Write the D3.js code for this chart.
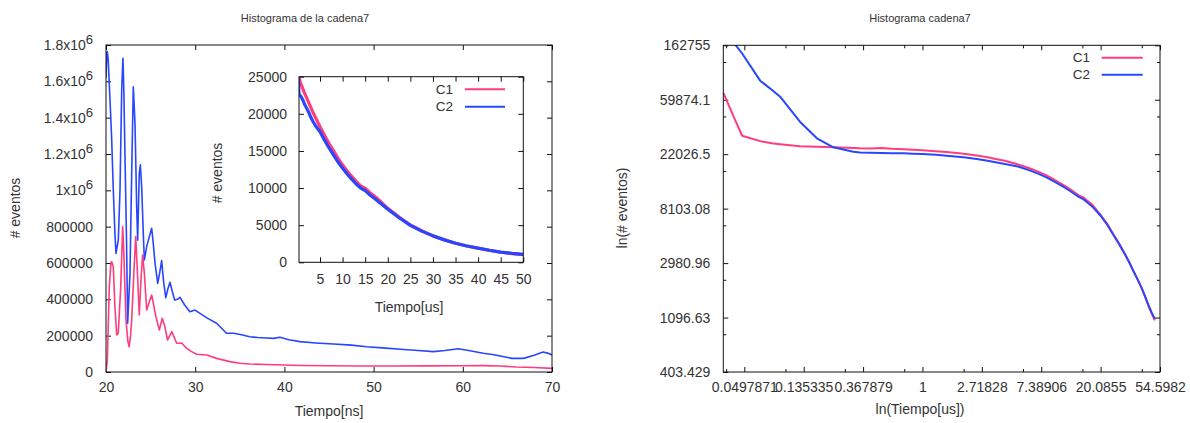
<!DOCTYPE html>
<html><head><meta charset="utf-8">
<script src="https://cdn.jsdelivr.net/npm/d3@7"></script>
<style>
body{margin:0;background:#fff}
svg text{font-family:"Liberation Sans",Arial,sans-serif;fill:#333}
</style>
</head><body><svg id="c" width="1190" height="423"></svg>
<script>
// ---------- data: left main plot (Tiempo[ns]) ----------
const nsTimeC1 = [20.0,20.15,20.37,20.55,20.64,20.82,21.0,21.2,21.38,21.65,21.87,22.0,22.24,22.45,22.6,22.75,22.88,23.14,23.33,23.51,23.73,23.92,24.1,24.3,24.56,24.86,25.12,25.38,25.6,25.98,26.31,26.6,26.9,27.37,27.93,28.5,29.05,29.6,30.17,31.3,32.4,33.9,35,36.1,38,39.9,42,45,48.1,52,56,60,62.3,64.2,66.0,68,70];
const nsC1 = [0,66000,470000,600000,607000,580000,360000,204000,213000,470000,800000,653000,286000,170000,139000,200000,286000,561000,745000,561000,314000,506000,644000,543000,341000,387000,424000,360000,304000,231000,296000,249000,176000,222000,158000,158000,130000,112000,98000,94000,75000,57000,48000,44000,41000,38500,36000,34500,33000,33000,33500,34000,35000,33000,27500,25000,20000];
const nsTimeC2 = [20.0,20.1,20.15,20.25,20.45,20.64,20.82,21.0,21.12,21.38,21.57,21.76,21.9,22.0,22.13,22.3,22.43,22.69,22.88,23.06,23.25,23.44,23.55,23.73,23.85,24.0,24.18,24.3,24.56,24.86,25.12,25.3,25.5,25.8,26.0,26.24,26.45,26.7,26.95,27.17,27.45,27.7,28.0,28.3,28.8,29.4,29.98,30.54,31.4,32.4,33.5,34.3,35.2,36.1,37.0,38.0,38.8,39.5,40.5,41.75,43.5,45.5,47.5,49.2,51,53.0,55,56.7,58,59.5,60.5,62.3,63.5,64.9,65.5,66.8,68,69.0,69.5,70];
const nsC2 = [1620000,1760000,1763000,1717000,1497000,1277000,1000000,763000,653000,726000,1000000,1552000,1727000,1550000,1185000,726000,268000,543000,1094000,1570000,1370000,910000,726000,1094000,1140000,1020000,763000,617000,690000,745000,791000,708000,598000,488000,540000,613000,500000,409000,460000,494000,440000,396000,400000,411000,370000,332000,341000,323000,295000,268000,213000,213000,205000,194000,190000,187000,185000,191000,178000,167000,160000,154000,148000,139000,133000,125000,118000,112000,118000,128000,120000,103000,95000,81000,75000,75000,92000,110000,104000,94000];
const mainXTicks = [20,30,40,50,60,70];
const mainYTicks = [0,200000,400000,600000,800000,1000000,1200000,1400000,1600000,1800000];

// ---------- data: decay (Tiempo[us]) used by inset and log plot ----------
const usTime = [0.035,0.043,0.048,0.065,0.079,0.091,0.127,0.169,0.223,0.313,0.35,0.42,0.5,0.6,0.73,0.85,1,1.25,1.5,2,2.5,3,3.5,4,5,6,7,8,9,10,11,12,13,14,15,16,17.5,20,22.5,25,27.5,30,32.5,35,37.5,40,42.5,45,47.5,50];
const usC1 = [68000,40500,30900,28000,26900,26500,25500,25200,25000,24700,24560,24500,24650,24300,24100,23900,23700,23300,22900,22200,21500,20800,20100,19500,18260,17100,16000,15000,14000,13100,12300,11600,10900,10300,9970,9400,8700,7270,6100,5020,4250,3590,3040,2560,2200,1890,1600,1350,1180,1040];
const usC2 = [225000,163000,140000,85000,72000,63300,40000,29500,25000,23000,22760,22600,22500,22450,22400,22250,22100,21800,21400,20800,20200,19500,18900,18400,17590,16450,15400,14450,13500,12660,11900,11200,10550,10000,9650,9100,8400,7150,6000,4980,4200,3560,3020,2560,2200,1900,1620,1380,1200,1070];
const insetXTicks = [5,10,15,20,25,30,35,40,45,50];
const insetYTicks = [0,5000,10000,15000,20000,25000];
const logXTickLabels = ["0.0497871","0.135335","0.367879","1","2.71828","7.38906","20.0855","54.5982"];
const logYTickLabels = ["403.429","1096.63","2980.96","8103.08","22026.5","59874.1","162755"];

const seriesNames = ["C1","C2"];
const colors = {C1:"#ff3d7c", C2:"#2846ff"};

const svg = d3.select("#c");
const FS = 14;

function box(g, x, y){
  const [x0,x1] = x.range(), [y0,y1] = y.range();
  g.append("rect").attr("x",Math.min(x0,x1)).attr("y",Math.min(y0,y1))
   .attr("width",Math.abs(x1-x0)).attr("height",Math.abs(y1-y0))
   .attr("fill","none").attr("stroke","#111").attr("stroke-width",1);
}
function styleAxis(sel){
  sel.select(".domain").remove();
  sel.selectAll(".tick line").attr("stroke","#111");
  sel.selectAll("text").attr("font-size",FS).attr("fill","#333").attr("font-family","Liberation Sans, Arial, sans-serif");
}
function clip(id, x, y){
  const [x0,x1] = x.range(), [y0,y1] = y.range();
  svg.append("clipPath").attr("id",id).append("rect")
    .attr("x",Math.min(x0,x1)).attr("y",Math.min(y0,y1))
    .attr("width",Math.abs(x1-x0)).attr("height",Math.abs(y1-y0));
}
function drawLine(g, xs, ys, x, y, color, w, clipId){
  const pts = xs.map((t,i)=>[t,ys[i]]);
  g.append("path").datum(pts)
   .attr("clip-path",`url(#${clipId})`)
   .attr("fill","none").attr("stroke",color).attr("stroke-width",w)
   .attr("stroke-linejoin","round")
   .attr("d", d3.line().x(d=>x(d[0])).y(d=>y(d[1])));
}
function legend(g, xTextEnd, yStart, dy, lineX0, lineX1){
  seriesNames.forEach((n,i)=>{
    const yy = yStart + i*dy;
    g.append("text").attr("x",xTextEnd).attr("y",yy).attr("dy","0.35em")
     .attr("text-anchor","end").attr("font-size",13.5).text(n);
    g.append("line").attr("x1",lineX0).attr("x2",lineX1).attr("y1",yy).attr("y2",yy)
     .attr("stroke",colors[n]).attr("stroke-width",2);
  });
}

// ================= LEFT MAIN PLOT =================
const xM = d3.scaleLinear().domain([20,70]).range([106,552]);
const yM = d3.scaleLinear().domain([0,1800000]).range([372,45]);
const gM = svg.append("g");
clip("clipM", xM, yM);

gM.append("g").attr("transform","translate(0,372)")
  .call(d3.axisBottom(xM).tickValues(mainXTicks).tickSizeInner(-5).tickSizeOuter(0).tickPadding(10))
  .call(styleAxis);
gM.append("g").attr("transform","translate(0,45)")
  .call(d3.axisTop(xM).tickValues(mainXTicks).tickSizeInner(-5).tickSizeOuter(0).tickFormat(""))
  .call(styleAxis);
const yAxM = gM.append("g").attr("transform","translate(106,0)")
  .call(d3.axisLeft(yM).tickValues(mainYTicks).tickSizeInner(-5).tickSizeOuter(0).tickPadding(13).tickFormat(d=>String(d)))
  .call(styleAxis);
yAxM.selectAll(".tick text").each(function(d){
  if (d >= 1000000){
    const t = d3.select(this); t.text("");
    const m = d/1000000;
    t.append("tspan").text((Number.isInteger(m)? m : m.toFixed(1)) + "x10");
    t.append("tspan").attr("dy","-0.45em").attr("font-size",13).text("6");
  }
});
gM.append("g").attr("transform","translate(552,0)")
  .call(d3.axisRight(yM).tickValues(mainYTicks).tickSizeInner(-5).tickSizeOuter(0).tickFormat(""))
  .call(styleAxis);

drawLine(gM, nsTimeC1, nsC1, xM, yM, colors.C1, 1.6, "clipM");
drawLine(gM, nsTimeC2, nsC2, xM, yM, colors.C2, 1.6, "clipM");
box(gM, xM, yM);

gM.append("text").attr("x",305).attr("y",18).attr("dy","0.35em").attr("text-anchor","middle").attr("font-size",11).text("Histograma de la cadena7");
gM.append("text").attr("x",329).attr("y",411).attr("dy","0.35em").attr("text-anchor","middle").attr("font-size",FS).text("Tiempo[ns]");
gM.append("text").attr("transform","translate(15,208) rotate(-90)").attr("dy","0.35em").attr("text-anchor","middle").attr("font-size",FS).text("# eventos");

// ================= INSET =================
const xI = d3.scaleLinear().domain([0.35,50]).range([299,523.3]);
const yI = d3.scaleLinear().domain([0,25000]).range([262.3,76.7]);
const gI = svg.append("g");
clip("clipI", xI, yI);
gI.append("rect").attr("x",299).attr("y",76.7).attr("width",224.3).attr("height",185.6).attr("fill","#fff");
gI.append("g").attr("transform","translate(0,262.3)")
  .call(d3.axisBottom(xI).tickValues(insetXTicks).tickSizeInner(-5).tickSizeOuter(0).tickPadding(12))
  .call(styleAxis);
gI.append("g").attr("transform","translate(0,76.7)")
  .call(d3.axisTop(xI).tickValues(insetXTicks).tickSizeInner(-5).tickSizeOuter(0).tickFormat(""))
  .call(styleAxis);
gI.append("g").attr("transform","translate(299,0)")
  .call(d3.axisLeft(yI).tickValues(insetYTicks).tickSizeInner(-5).tickSizeOuter(0).tickPadding(12).tickFormat(d=>String(d)))
  .call(styleAxis);
gI.append("g").attr("transform","translate(523.3,0)")
  .call(d3.axisRight(yI).tickValues(insetYTicks).tickSizeInner(-5).tickSizeOuter(0).tickFormat(""))
  .call(styleAxis);
drawLine(gI, usTime, usC1, xI, yI, colors.C1, 3.2, "clipI");
drawLine(gI, usTime, usC2, xI, yI, colors.C2, 3.2, "clipI");
box(gI, xI, yI);
legend(gI, 453, 89.3, 17.4, 465, 505);
gI.append("text").attr("x",409).attr("y",306.7).attr("dy","0.35em").attr("text-anchor","middle").attr("font-size",FS).text("Tiempo[us]");
gI.append("text").attr("transform","translate(217,173) rotate(-90)").attr("dy","0.35em").attr("text-anchor","middle").attr("font-size",FS).text("# eventos");

// ================= RIGHT LOG PLOT =================
const logXTicks = logXTickLabels.map(Number);
const logYTicks = logYTickLabels.map(Number);
const xR = d3.scaleLog().base(Math.E).domain([Math.exp(-3.354), Math.exp(4)]).range([723.3,1160]);
const yR = d3.scaleLog().base(Math.E).domain([Math.exp(6), Math.exp(12)]).range([372,45.3]);
const gR = svg.append("g");
clip("clipR", xR, yR);
const minorX = logXTicks.map(v=>v*2).concat([logXTicks[0]*2/Math.E]).filter(v=>v>=xR.domain()[0] && v<=xR.domain()[1]);
const minorY = logYTicks.map(v=>v*2).filter(v=>v<=yR.domain()[1]);

gR.append("g").attr("transform","translate(0,372)")
  .call(d3.axisBottom(xR).tickValues(logXTicks).tickSizeInner(-5).tickSizeOuter(0).tickPadding(10).tickFormat((d,i)=>logXTickLabels[i]))
  .call(styleAxis);
gR.append("g").attr("transform","translate(0,372)")
  .call(d3.axisBottom(xR).tickValues(minorX).tickSizeInner(-3).tickSizeOuter(0).tickFormat(""))
  .call(styleAxis);
gR.append("g").attr("transform","translate(0,45.3)")
  .call(d3.axisTop(xR).tickValues(logXTicks).tickSizeInner(-5).tickSizeOuter(0).tickFormat(""))
  .call(styleAxis);
gR.append("g").attr("transform","translate(0,45.3)")
  .call(d3.axisTop(xR).tickValues(minorX).tickSizeInner(-3).tickSizeOuter(0).tickFormat(""))
  .call(styleAxis);
gR.append("g").attr("transform","translate(723.3,0)")
  .call(d3.axisLeft(yR).tickValues(logYTicks).tickSizeInner(-5).tickSizeOuter(0).tickPadding(13).tickFormat((d,i)=>logYTickLabels[i]))
  .call(styleAxis);
gR.append("g").attr("transform","translate(723.3,0)")
  .call(d3.axisLeft(yR).tickValues(minorY).tickSizeInner(-3).tickSizeOuter(0).tickFormat(""))
  .call(styleAxis);
gR.append("g").attr("transform","translate(1160,0)")
  .call(d3.axisRight(yR).tickValues(logYTicks).tickSizeInner(-5).tickSizeOuter(0).tickFormat(""))
  .call(styleAxis);
gR.append("g").attr("transform","translate(1160,0)")
  .call(d3.axisRight(yR).tickValues(minorY).tickSizeInner(-3).tickSizeOuter(0).tickFormat(""))
  .call(styleAxis);

drawLine(gR, usTime, usC1, xR, yR, colors.C1, 2, "clipR");
drawLine(gR, usTime, usC2, xR, yR, colors.C2, 2, "clipR");
box(gR, xR, yR);
legend(gR, 1090, 57.7, 17, 1101.7, 1142.7);

gR.append("text").attr("x",920).attr("y",18).attr("dy","0.35em").attr("text-anchor","middle").attr("font-size",11).text("Histograma cadena7");
gR.append("text").attr("x",920).attr("y",409).attr("dy","0.35em").attr("text-anchor","middle").attr("font-size",FS).text("ln(Tiempo[us])");
gR.append("text").attr("transform","translate(622,208) rotate(-90)").attr("dy","0.35em").attr("text-anchor","middle").attr("font-size",FS).text("ln(# eventos)");
</script>
</body></html>
